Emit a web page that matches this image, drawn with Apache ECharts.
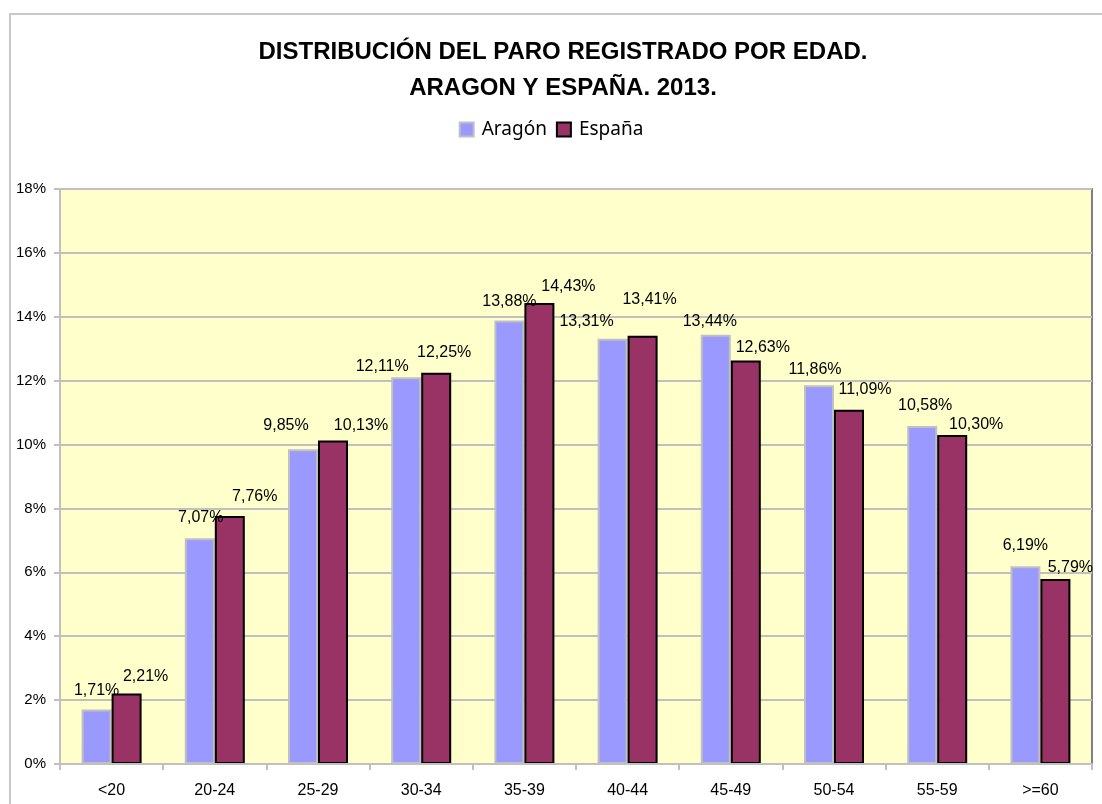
<!DOCTYPE html>
<html>
<head>
<meta charset="utf-8">
<script src="https://cdn.jsdelivr.net/npm/echarts@6/dist/echarts.min.js"></script>
<style>
  html, body { margin: 0; padding: 0; background: #fff; }
  #main { width: 1102px; height: 804px; }
</style>
</head>
<body>
<div id="main"></div>
<script>
// datos: paro registrado por edad, 2013
var categories = ['<20', '20-24', '25-29', '30-34', '35-39', '40-44', '45-49', '50-54', '55-59', '>=60'];
var aragon = [1.71, 7.07, 9.85, 12.11, 13.88, 13.31, 13.44, 11.86, 10.58, 6.19];
var espana = [2.21, 7.76, 10.13, 12.25, 14.43, 13.41, 12.63, 11.09, 10.30, 5.79];

// desplazamiento de las etiquetas (como en la hoja original)
var aragonLabelShift = [[0, -11], [1, -13], [-17, -16], [-24, -3], [0, -11], [-26, -9], [-6, -5], [-4, -8], [3, -12], [0, -13]];
var espanaLabelShift = [[19, -9], [25, -12], [28, -7], [8, -12], [29, -8], [7, -28], [17, -5], [16, -12], [24, -2], [15, -3]];

var font = "'Liberation Sans', Arial, sans-serif";

function fmt(v) {
    return v.toFixed(2).replace('.', ',') + '%';
}

function buildData(values, shifts) {
    return values.map(function (v, i) {
        return { value: v, label: { offset: shifts[i] } };
    });
}

var myChart = echarts.init(document.getElementById('main'));

var option = {
    backgroundColor: '#fff',
    animation: false,
    textStyle: { fontFamily: font },
    graphic: [
        {
            type: 'rect',
            shape: { x: 10, y: 14, width: 1200, height: 900 },
            style: { fill: 'none', stroke: '#c8c8c8', lineWidth: 2 },
            silent: true
        }
    ],
    title: {
        text: 'DISTRIBUCIÓN DEL PARO REGISTRADO POR EDAD.\nARAGON Y ESPAÑA. 2013.',
        left: 558,
        top: 29,
        textAlign: 'center',
        textStyle: {
            fontFamily: font,
            fontSize: 24,
            fontWeight: 'bold',
            lineHeight: 36,
            color: '#000'
        }
    },
    legend: {
        data: ['Aragón', 'España'],
        left: 'center',
        top: 115,
        itemWidth: 14,
        itemHeight: 14,
        itemGap: 9,
        icon: 'rect',
        textStyle: { fontFamily: "'Noto Sans', sans-serif", fontSize: 19, color: '#000', padding: [0, 0, 0, 3] }
    },
    grid: {
        left: 60,
        right: 10,
        top: 189,
        bottom: 40,
        show: true,
        backgroundColor: '#FFFFCC',
        borderColor: '#808080',
        borderWidth: 2
    },
    xAxis: {
        type: 'category',
        data: categories,
        axisLine: { lineStyle: { color: '#c0c0c0', width: 2 } },
        axisTick: { show: true, length: 6, lineStyle: { color: '#c0c0c0', width: 2 } },
        axisLabel: { color: '#000', fontSize: 16, margin: 19, fontFamily: font },
        z: 10
    },
    yAxis: {
        type: 'value',
        min: 0,
        max: 18,
        interval: 2,
        axisLine: { show: true, lineStyle: { color: '#c0c0c0', width: 2 } },
        axisTick: { show: true, length: 6, lineStyle: { color: '#c0c0c0', width: 2 } },
        axisLabel: { color: '#000', fontSize: 15, margin: 14, fontFamily: font, formatter: '{value}%' },
        splitLine: { lineStyle: { color: '#c0c0c0', width: 2 } }
    },
    series: [
        {
            name: 'Aragón',
            type: 'bar',
            barWidth: 30,
            barGap: '0%',
            itemStyle: { color: '#9999FF', borderColor: '#c0c0c0', borderWidth: 2 },
            label: {
                show: true,
                position: 'top',
                distance: 0,
                color: '#000',
                fontSize: 16,
                fontFamily: font,
                formatter: function (p) { return fmt(p.value); }
            },
            data: buildData(aragon, aragonLabelShift)
        },
        {
            name: 'España',
            type: 'bar',
            barWidth: 30,
            barGap: '0%',
            itemStyle: { color: '#993366', borderColor: '#000', borderWidth: 2 },
            label: {
                show: true,
                position: 'top',
                distance: 0,
                color: '#000',
                fontSize: 16,
                fontFamily: font,
                formatter: function (p) { return fmt(p.value); }
            },
            data: buildData(espana, espanaLabelShift)
        }
    ]
};

myChart.setOption(option);
</script>
</body>
</html>
